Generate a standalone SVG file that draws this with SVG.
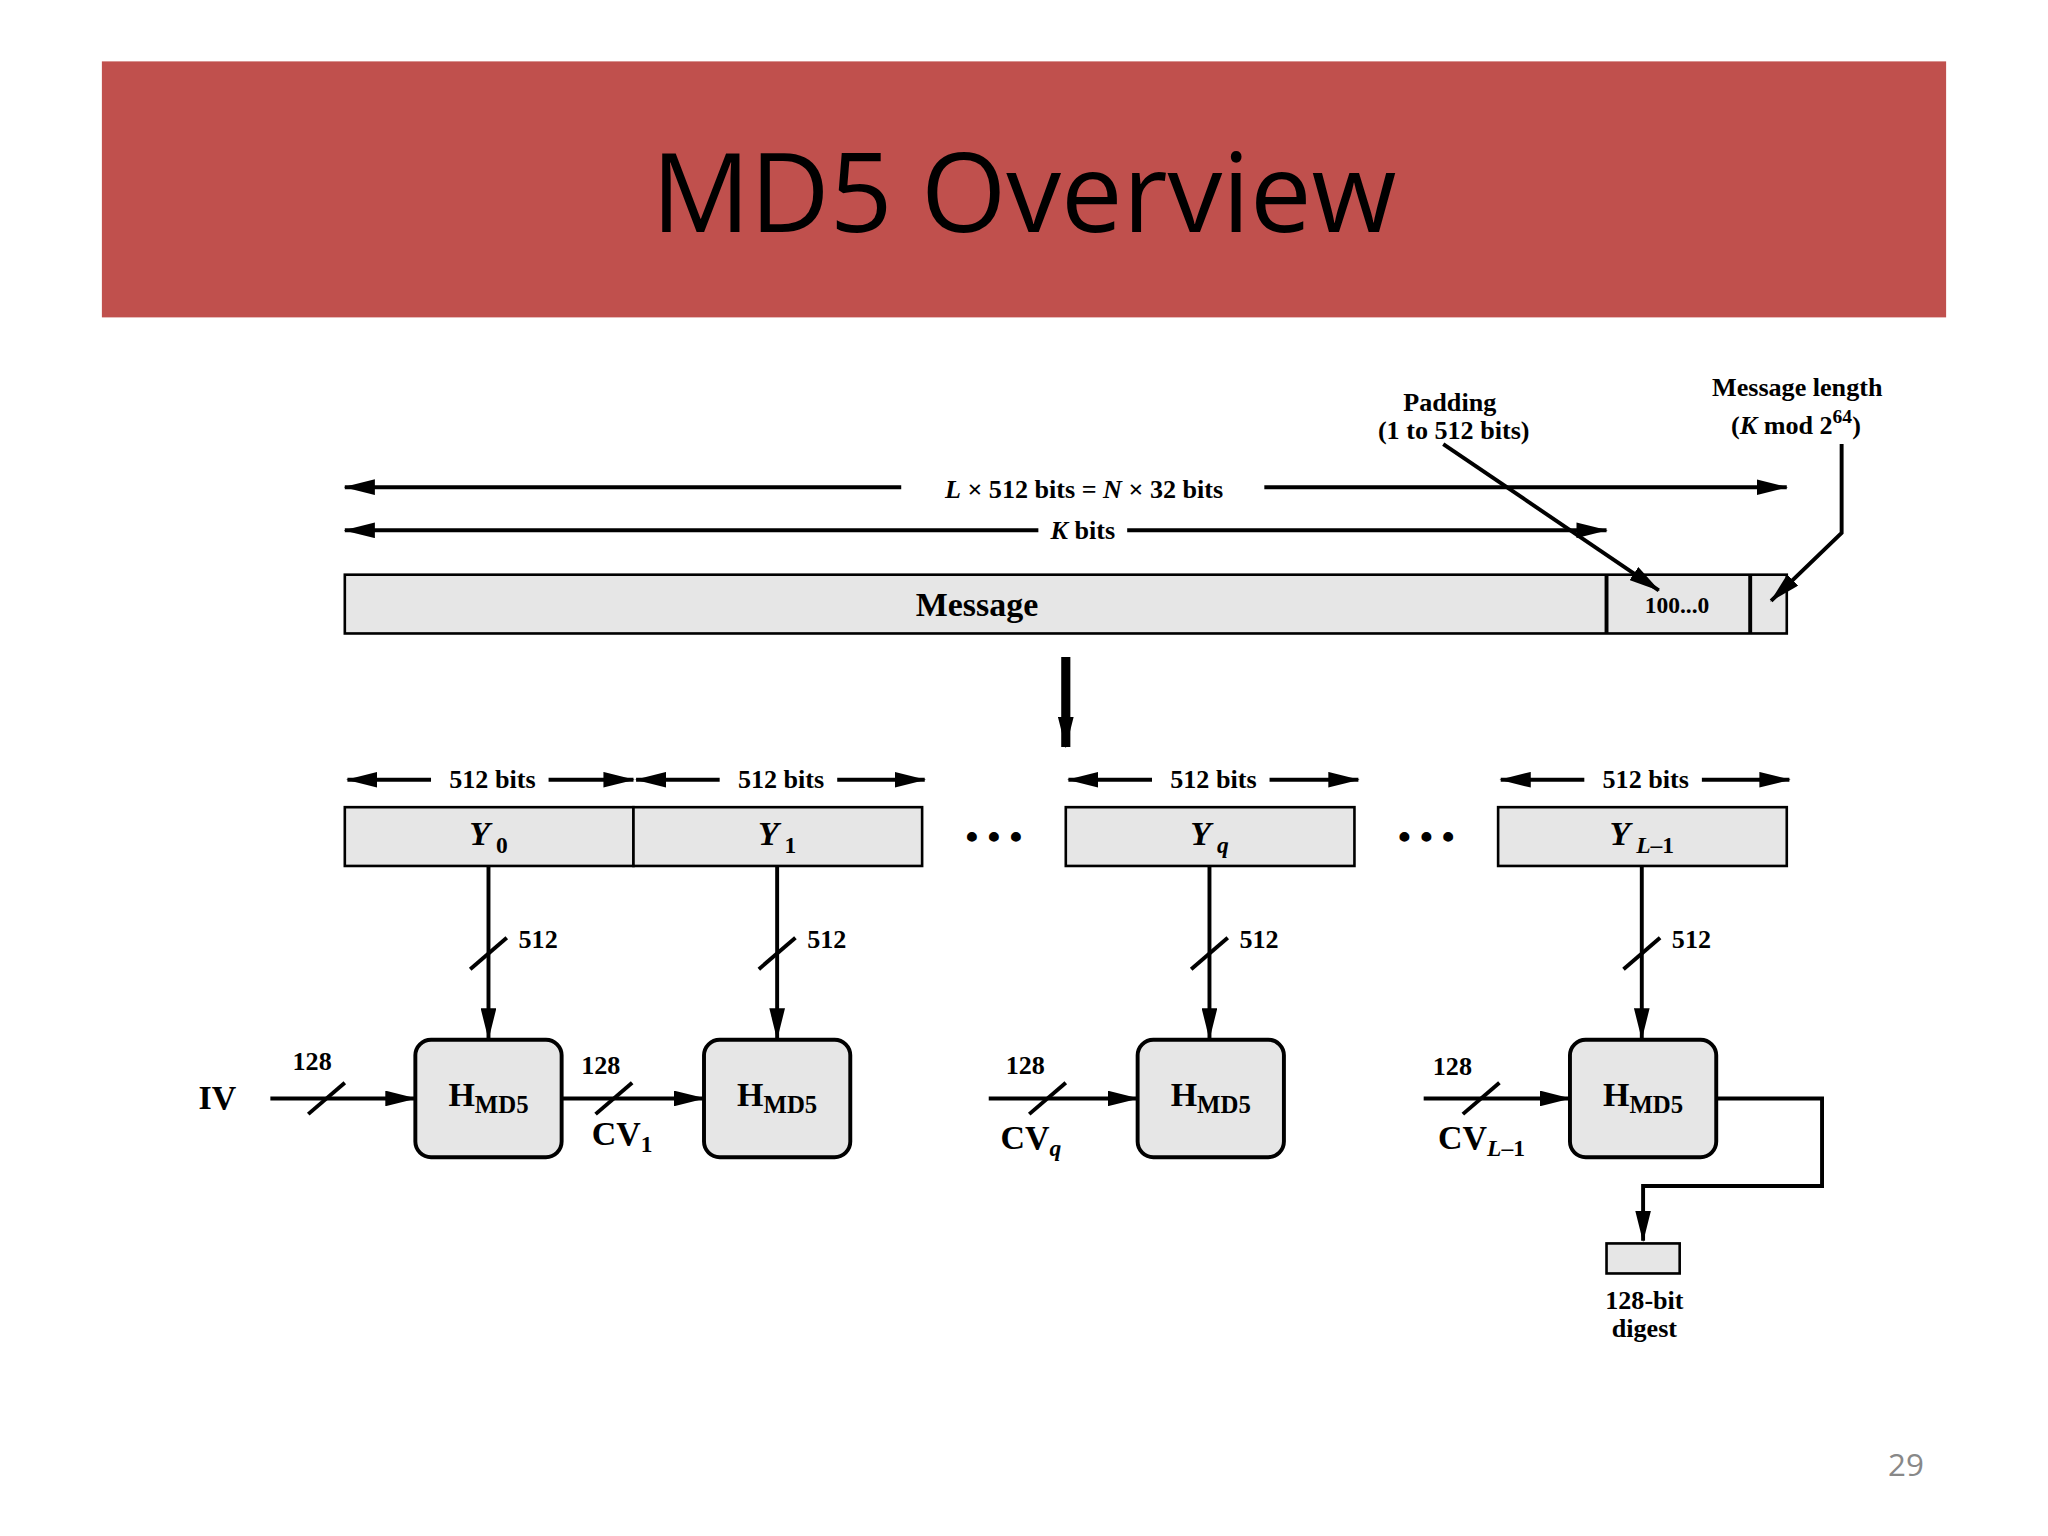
<svg xmlns="http://www.w3.org/2000/svg" width="2048" height="1536" viewBox="0 0 2048 1536">
<defs>
<marker id="ah" markerWidth="10" markerHeight="8" refX="9" refY="4" orient="auto-start-reverse" markerUnits="userSpaceOnUse"><path d="M0,0 L10,4 L0,8 z" fill="#000"/></marker>
<marker id="ahs" markerWidth="24" markerHeight="12" refX="23" refY="6" orient="auto-start-reverse" markerUnits="userSpaceOnUse"><path d="M0,0 L24,6 L0,12 z" fill="#000"/></marker>
<style>
.t{font-family:"Liberation Serif",serif;font-weight:bold;fill:#000}
.ln{stroke:#000;stroke-width:3;fill:none}
.box{fill:#e6e6e6;stroke:#000;stroke-width:2}
.hb{fill:#e6e6e6;stroke:#000;stroke-width:3}
</style>
</defs>
<rect width="2048" height="1536" fill="#fff"/>
<g transform="scale(1.30612)">
<g id="title"><rect x="78" y="47" width="1412" height="196" fill="#C0504D"/>
<text x="784" y="178" font-family="'Open Sans',sans-serif" font-size="84" text-anchor="middle" fill="#000">MD5 Overview</text></g>
<text x="1473" y="1130" font-family="'Open Sans',sans-serif" font-size="24" fill="#888" text-anchor="end">29</text>

<g id="message"><rect class="box" x="264" y="440" width="1104" height="45"/>
<line x1="1230" y1="440" x2="1230" y2="485" stroke="#000" stroke-width="3"/>
<line x1="1340" y1="440" x2="1340" y2="485" stroke="#000" stroke-width="3"/>
<text class="t" x="748" y="472" font-size="26" text-anchor="middle">Message</text>
<text class="t" x="1284" y="469" font-size="18" text-anchor="middle">100...0</text></g>

<g id="labels" class="t" font-size="20" text-anchor="middle">
<text x="1110" y="315">Padding</text><text x="1113" y="336">(1 to 512 bits)</text>
<text x="1376" y="303">Message length</text>
<text x="1375" y="332">(<tspan font-style="italic">K</tspan> mod 2<tspan dy="-8" font-size="15">64</tspan><tspan dy="8">)</tspan></text>
</g>

<g id="connectors">
<line class="ln" x1="264" y1="373" x2="690" y2="373" marker-start="url(#ahs)"/>
<line class="ln" x1="968" y1="373" x2="1368" y2="373" marker-end="url(#ahs)"/>
<text class="t" x="830" y="381" font-size="20" text-anchor="middle"><tspan font-style="italic">L</tspan> × 512 bits = <tspan font-style="italic">N</tspan> × 32 bits</text>
<line class="ln" x1="264" y1="406" x2="795" y2="406" marker-start="url(#ahs)"/>
<line class="ln" x1="863" y1="406" x2="1230" y2="406" marker-end="url(#ahs)"/>
<text class="t" x="829" y="413" font-size="20" text-anchor="middle"><tspan font-style="italic">K</tspan> bits</text>
<line class="ln" x1="1105" y1="340" x2="1270" y2="452" marker-end="url(#ahs)"/>
<polyline class="ln" points="1410,340 1410,408 1356,460" marker-end="url(#ahs)"/>
<line x1="816" y1="503" x2="816" y2="572" stroke="#000" stroke-width="7" marker-end="url(#ahs)"/>

<g id="bitarrows">
<line class="ln" x1="266" y1="597" x2="330" y2="597" marker-start="url(#ahs)"/><line class="ln" x1="420" y1="597" x2="485" y2="597" marker-end="url(#ahs)"/>
<line class="ln" x1="487" y1="597" x2="551" y2="597" marker-start="url(#ahs)"/><line class="ln" x1="641" y1="597" x2="708" y2="597" marker-end="url(#ahs)"/>
<line class="ln" x1="818" y1="597" x2="882" y2="597" marker-start="url(#ahs)"/><line class="ln" x1="972" y1="597" x2="1040" y2="597" marker-end="url(#ahs)"/>
<line class="ln" x1="1149" y1="597" x2="1213" y2="597" marker-start="url(#ahs)"/><line class="ln" x1="1303" y1="597" x2="1370" y2="597" marker-end="url(#ahs)"/>
</g>
<g class="t" font-size="20" text-anchor="middle">
<text x="377" y="603">512 bits</text><text x="598" y="603">512 bits</text><text x="929" y="603">512 bits</text><text x="1260" y="603">512 bits</text></g>

<g id="verticals">
<line class="ln" x1="374" y1="663" x2="374" y2="795" marker-end="url(#ahs)"/>
<line class="ln" x1="595" y1="663" x2="595" y2="795" marker-end="url(#ahs)"/>
<line class="ln" x1="926" y1="663" x2="926" y2="795" marker-end="url(#ahs)"/>
<line class="ln" x1="1257" y1="663" x2="1257" y2="795" marker-end="url(#ahs)"/>
<line class="ln" x1="360" y1="742" x2="388" y2="718"/>
<line class="ln" x1="581" y1="742" x2="609" y2="718"/>
<line class="ln" x1="912" y1="742" x2="940" y2="718"/>
<line class="ln" x1="1243" y1="742" x2="1271" y2="718"/>
</g>
<g class="t" font-size="20"><text x="397" y="726">512</text><text x="618" y="726">512</text><text x="949" y="726">512</text><text x="1280" y="726">512</text></g>

<g id="chain">
<line class="ln" x1="207" y1="841" x2="318" y2="841" marker-end="url(#ahs)"/>
<line class="ln" x1="430" y1="841" x2="539" y2="841" marker-end="url(#ahs)"/>
<line class="ln" x1="757" y1="841" x2="871" y2="841" marker-end="url(#ahs)"/>
<line class="ln" x1="1090" y1="841" x2="1202" y2="841" marker-end="url(#ahs)"/>
<line class="ln" x1="236" y1="853" x2="264" y2="829"/>
<line class="ln" x1="456" y1="853" x2="484" y2="829"/>
<line class="ln" x1="788" y1="853" x2="816" y2="829"/>
<line class="ln" x1="1120" y1="853" x2="1148" y2="829"/>
<polyline class="ln" points="1313,841 1395,841 1395,908 1258,908 1258,950" stroke-width="4" marker-end="url(#ahs)"/>
</g>
</g>

<g class="t" font-size="20">
<text x="224" y="819">128</text><text x="445" y="822">128</text><text x="770" y="822">128</text><text x="1097" y="823">128</text></g>
<g class="t" font-size="26">
<text x="152" y="849">IV</text>
<text x="453" y="877">CV<tspan font-size="18" dy="5">1</tspan></text>
<text x="766" y="880">CV<tspan font-size="18" dy="5" font-style="italic">q</tspan></text>
<text x="1101" y="880">CV<tspan font-size="18" dy="5"><tspan font-style="italic">L</tspan>–1</tspan></text>
</g>

<g id="y0"><rect class="box" x="264" y="618" width="221" height="45"/><text class="t" x="374" y="647" font-size="26" text-anchor="middle"><tspan font-style="italic">Y</tspan><tspan font-size="18" dy="6"> 0</tspan></text></g>
<g id="y1"><rect class="box" x="485" y="618" width="221" height="45"/><text class="t" x="595" y="647" font-size="26" text-anchor="middle"><tspan font-style="italic">Y</tspan><tspan font-size="18" dy="6"> 1</tspan></text></g>
<g id="yq"><rect class="box" x="816" y="618" width="221" height="45"/><text class="t" x="926" y="647" font-size="26" text-anchor="middle"><tspan font-style="italic">Y</tspan><tspan font-size="18" dy="6" font-style="italic"> q</tspan></text></g>
<g id="yl"><rect class="box" x="1147" y="618" width="221" height="45"/><text class="t" x="1257" y="647" font-size="26" text-anchor="middle"><tspan font-style="italic">Y</tspan><tspan font-size="18" dy="6"> <tspan font-style="italic">L</tspan>–1</tspan></text></g>
<text class="t" x="761" y="650" font-size="28" text-anchor="middle">• • •</text>
<text class="t" x="1092" y="650" font-size="28" text-anchor="middle">• • •</text>

<g id="h0"><rect class="hb" x="318" y="796" width="112" height="90" rx="12"/><text class="t" x="374" y="847" font-size="26" text-anchor="middle">H<tspan font-size="19" dy="5">MD5</tspan></text></g>
<g id="h1"><rect class="hb" x="539" y="796" width="112" height="90" rx="12"/><text class="t" x="595" y="847" font-size="26" text-anchor="middle">H<tspan font-size="19" dy="5">MD5</tspan></text></g>
<g id="hq"><rect class="hb" x="871" y="796" width="112" height="90" rx="12"/><text class="t" x="927" y="847" font-size="26" text-anchor="middle">H<tspan font-size="19" dy="5">MD5</tspan></text></g>
<g id="hl"><rect class="hb" x="1202" y="796" width="112" height="90" rx="12"/><text class="t" x="1258" y="847" font-size="26" text-anchor="middle">H<tspan font-size="19" dy="5">MD5</tspan></text></g>

<g id="digest"><rect class="box" x="1230" y="952" width="56" height="23"/>
<text class="t" x="1259" y="1002" font-size="20" text-anchor="middle">128-bit</text>
<text class="t" x="1259" y="1024" font-size="20" text-anchor="middle">digest</text></g>
</g>
</svg>
